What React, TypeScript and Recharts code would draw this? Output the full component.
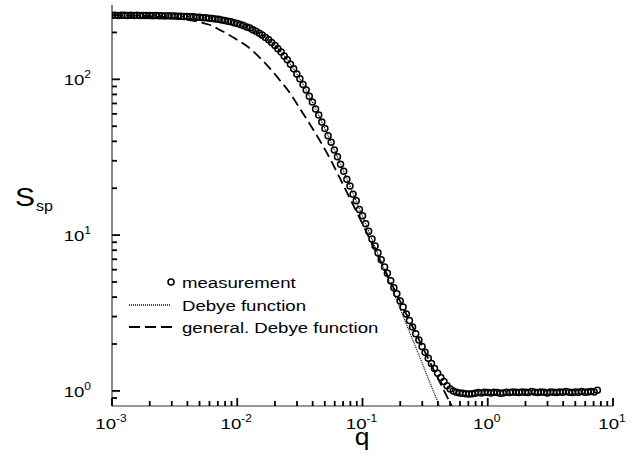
import React from 'react';
import { ComposedChart, Line, Scatter, XAxis, YAxis, Legend } from 'recharts';

// measured S_sp(q), low-q plateau
const measQLow = [0.001, 0.00106, 0.00112, 0.00119, 0.00126, 0.00133, 0.00141, 0.0015, 0.00158, 0.00168, 0.00178, 0.00188, 0.002, 0.00211, 0.00224, 0.00237, 0.00251, 0.00266, 0.00282, 0.00299, 0.00316, 0.00335, 0.00355, 0.00376, 0.00398, 0.00422, 0.00447, 0.00473, 0.00501, 0.00531, 0.00562, 0.00596, 0.00631, 0.00668, 0.00708, 0.0075, 0.00794, 0.00841, 0.00891, 0.00944];
const measSLow = [257.5, 258.2, 257.1, 258.0, 257.6, 256.9, 257.8, 257.0, 257.4, 256.6, 257.3, 256.5, 256.9, 256.2, 256.7, 255.8, 256.1, 255.4, 255.8, 254.9, 255.0, 254.1, 254.3, 253.2, 253.1, 252.0, 251.8, 250.6, 250.3, 248.7, 248.2, 246.5, 245.6, 243.7, 242.6, 240.2, 238.7, 236.0, 234.0, 230.8];

// measured, roll-off
const measQMid = [0.01, 0.0106, 0.0112, 0.0119, 0.0126, 0.0133, 0.0141, 0.015, 0.0158, 0.0168, 0.0178, 0.0188, 0.02, 0.0211, 0.0224, 0.0237, 0.0251, 0.0266, 0.0282, 0.0299, 0.0316, 0.0335, 0.0355, 0.0376, 0.0398, 0.0422, 0.0447, 0.0473, 0.0501, 0.0531, 0.0562, 0.0596, 0.0631, 0.0668, 0.0708, 0.075, 0.0794, 0.0841, 0.0891, 0.0944, 0.1, 0.106, 0.112, 0.119, 0.126, 0.133, 0.141, 0.15, 0.158, 0.168, 0.178, 0.188, 0.2, 0.211, 0.224, 0.237, 0.251, 0.266, 0.282, 0.299, 0.316, 0.335, 0.355, 0.376, 0.398, 0.422, 0.447, 0.473, 0.501, 0.531];
const measSMid = [228.3, 224.6, 221.7, 217.0, 213.3, 208.4, 203.8, 197.5, 192.7, 185.6, 179.5, 172.3, 165.1, 157.4, 149.9, 141.4, 133.8, 124.9, 117.1, 108.2, 101.0, 92.6, 85.4, 77.9, 71.6, 64.6, 59.1, 53.2, 48.4, 43.5, 39.4, 35.2, 31.9, 28.5, 25.7, 22.8, 20.7, 18.3, 16.6, 14.6, 13.3, 11.85, 10.6, 9.45, 8.5, 7.7, 6.95, 6.25, 5.7, 5.1, 4.6, 4.2, 3.78, 3.45, 3.12, 2.83, 2.57, 2.33, 2.12, 1.93, 1.77, 1.62, 1.5, 1.39, 1.3, 1.22, 1.15, 1.08, 1.03, 1.0];

// measured, flat background at high q
const measQHigh = [0.562, 0.596, 0.631, 0.668, 0.708, 0.75, 0.794, 0.841, 0.891, 0.944, 1, 1.06, 1.12, 1.19, 1.26, 1.33, 1.41, 1.5, 1.58, 1.68, 1.78, 1.88, 2, 2.11, 2.24, 2.37, 2.51, 2.66, 2.82, 2.99, 3.16, 3.35, 3.55, 3.76, 3.98, 4.22, 4.47, 4.73, 5.01, 5.31, 5.62, 5.96, 6.31, 6.68, 7.08, 7.5];
const measSHigh = [0.98, 0.97, 0.965, 0.96, 0.955, 0.96, 0.965, 0.975, 0.97, 0.98, 0.975, 0.97, 0.98, 0.975, 0.965, 0.97, 0.98, 0.975, 0.985, 0.98, 0.975, 0.985, 0.98, 0.975, 0.99, 0.98, 0.975, 0.985, 0.98, 0.97, 0.985, 0.98, 0.975, 0.985, 0.98, 0.99, 0.98, 0.975, 0.985, 0.98, 0.99, 0.98, 0.985, 0.99, 0.985, 1.01];

// Debye function (dotted)
const debyeQ = [0.001, 0.002, 0.003, 0.004, 0.005, 0.00631, 0.00794, 0.01, 0.0126, 0.0141, 0.0158, 0.0178, 0.02, 0.0224, 0.0251, 0.0282, 0.0316, 0.0355, 0.0398, 0.0447, 0.0501, 0.0562, 0.0631, 0.0708, 0.0794, 0.0891, 0.1, 0.112, 0.126, 0.141, 0.158, 0.178, 0.2, 0.224, 0.251, 0.282, 0.316, 0.355, 0.398, 0.422];
const debyeS = [257.7, 256.7, 255.1, 252.9, 250.0, 245.4, 238.5, 228.1, 213.0, 203.5, 192.4, 179.2, 164.8, 149.6, 133.5, 116.8, 100.8, 85.2, 71.4, 58.9, 48.3, 39.3, 31.8, 25.6, 20.6, 16.5, 13.2, 10.6, 8.39, 6.72, 5.37, 4.24, 3.36, 2.68, 2.14, 1.7, 1.35, 1.07, 0.853, 0.759];

// generalized Debye function (dashed)
const genQ = [0.001, 0.0015, 0.002, 0.003, 0.004, 0.005, 0.006, 0.0073, 0.0087, 0.01, 0.012, 0.0151, 0.018, 0.0218, 0.026, 0.0316, 0.038, 0.0456, 0.055, 0.066, 0.0817, 0.1, 0.13, 0.17, 0.2, 0.25, 0.3, 0.35, 0.43, 0.52];
const genS = [258, 256.5, 254, 248, 241, 233, 224, 207, 192, 179, 163, 138, 119, 99, 83, 65, 51.5, 40.5, 31, 23.2, 16.4, 11.8, 7.6, 4.9, 3.75, 2.6, 1.93, 1.5, 1.07, 0.79];

const xMajor = [0.001, 0.01, 0.1, 1, 10];
const xMinor = [0.002, 0.003, 0.004, 0.005, 0.006, 0.007, 0.008, 0.009, 0.02, 0.03, 0.04, 0.05, 0.06, 0.07, 0.08, 0.09, 0.2, 0.3, 0.4, 0.5, 0.6, 0.7, 0.8, 0.9, 2, 3, 4, 5, 6, 7, 8, 9];
const yMajor = [1, 10, 100];
const yMinor = [0.9, 2, 3, 4, 5, 6, 7, 8, 9, 20, 30, 40, 50, 60, 70, 80, 90, 200];

const zip = (qs: number[], ss: number[]) => qs.map((q, i) => ({ q, s: ss[i] }));
const measData = [...zip(measQLow, measSLow), ...zip(measQMid, measSMid), ...zip(measQHigh, measSHigh)];
const debyeData = zip(debyeQ, debyeS);
const genData = zip(genQ, genS);

const xTicks = [...xMajor, ...xMinor].sort((a, b) => a - b);
const yTicks = [...yMajor, ...yMinor].sort((a, b) => a - b);

const FONT = '"Liberation Sans", Arial, Helvetica, sans-serif';
const TICK = '#000';
const TICK_W = 1.8;
const X_DOMAIN: [number, number] = [0.001, 10];
const Y_DOMAIN: [number, number] = [0.8, 300];
const exp10 = (v: number) => String(Math.round(Math.log10(v)));
const isMajor = (list: number[], v: number) => list.some((m) => Math.abs(m - v) < m * 1e-6);

// plot box is fixed by the margins
const PLOT = { left: 112, right: 613, top: 5, bottom: 406 };

const BottomTick = (props: any) => {
  const major = isMajor(xMajor, props.payload.value);
  return (
    <g>
      <line x1={props.x} x2={props.x} y1={PLOT.bottom} y2={PLOT.bottom - (major ? 8 : 5)} stroke={TICK} strokeWidth={TICK_W} />
      {major && (
        <text transform={`translate(${props.x - 1},429) scale(1.2,1)`} textAnchor="middle" fontFamily={FONT} fontSize={15.5} fill="#000">
          10<tspan fontSize={10} dy={-7}>{exp10(props.payload.value)}</tspan>
        </text>
      )}
    </g>
  );
};

const TopTick = (props: any) => {
  const major = isMajor(xMajor, props.payload.value);
  return <line x1={props.x} x2={props.x} y1={PLOT.top} y2={PLOT.top + (major ? 8 : 5)} stroke={TICK} strokeWidth={TICK_W} />;
};

const LeftTick = (props: any) => {
  const major = isMajor(yMajor, props.payload.value);
  return (
    <g>
      <line x1={PLOT.left} x2={PLOT.left + (major ? 8 : 5)} y1={props.y} y2={props.y} stroke={TICK} strokeWidth={TICK_W} />
      {major && (
        <text transform={`translate(91,${props.y + 6}) scale(1.2,1)`} textAnchor="end" fontFamily={FONT} fontSize={15.5} fill="#000">
          10<tspan fontSize={10} dy={-7}>{exp10(props.payload.value)}</tspan>
        </text>
      )}
    </g>
  );
};

const RightTick = (props: any) => {
  const major = isMajor(yMajor, props.payload.value);
  return <line x1={PLOT.right} x2={PLOT.right - (major ? 8 : 5)} y1={props.y} y2={props.y} stroke={TICK} strokeWidth={TICK_W} />;
};

const Ring = (props: any) => (
  <circle cx={props.cx} cy={props.cy} r={3} fill="none" stroke="#000" strokeWidth={1.5} />
);

const LegendBox = () => (
  <svg width={270} height={72} style={{ overflow: 'visible' }}>
    <circle cx={46} cy={14} r={3} fill="none" stroke="#000" strokeWidth={1.5} />
    <text transform="translate(57,20) scale(1.2,1)" fontFamily={FONT} fontSize={15.5} fill="#000">measurement</text>
    <line x1={4} x2={46} y1={37} y2={37} stroke="#000" strokeWidth={1.3} strokeDasharray="1 1" />
    <text transform="translate(57,43) scale(1.2,1)" fontFamily={FONT} fontSize={15.5} fill="#000">Debye function</text>
    <line x1={4} x2={47} y1={59} y2={59} stroke="#000" strokeWidth={2} strokeDasharray="11 5" />
    <text transform="translate(57,65) scale(1.2,1)" fontFamily={FONT} fontSize={15.5} fill="#000">general. Debye function</text>
  </svg>
);

const frame = { stroke: '#333', strokeWidth: 1.2 };

export default function App() {
  return (
    <div style={{ position: 'absolute', left: 0, top: 0, width: 635, height: 462, background: '#fff' }}>
      <ComposedChart width={635} height={462} margin={{ top: 5, right: 22, bottom: 26, left: 52 }}>
        <XAxis dataKey="q" type="number" scale="log" domain={X_DOMAIN} allowDataOverflow ticks={xTicks} interval={0}
          tick={<BottomTick />} tickLine={false} tickSize={0} tickMargin={0} height={30} axisLine={frame} />
        <XAxis xAxisId="top" orientation="top" type="number" scale="log" domain={X_DOMAIN} allowDataOverflow ticks={xTicks} interval={0}
          tick={<TopTick />} tickLine={false} tickSize={0} tickMargin={0} height={0} axisLine={frame} />
        <YAxis dataKey="s" type="number" scale="log" domain={Y_DOMAIN} allowDataOverflow ticks={yTicks} interval={0}
          tick={<LeftTick />} tickLine={false} tickSize={0} tickMargin={0} width={60} axisLine={frame} />
        <YAxis yAxisId="right" orientation="right" type="number" scale="log" domain={Y_DOMAIN} allowDataOverflow ticks={yTicks} interval={0}
          tick={<RightTick />} tickLine={false} tickSize={0} tickMargin={0} width={0} axisLine={frame} />

        <Line data={genData} dataKey="s" type="monotone" dot={false} stroke="#000" strokeWidth={1.8} strokeDasharray="10 5" isAnimationActive={false} />
        <Line data={debyeData} dataKey="s" type="monotone" dot={false} stroke="#000" strokeWidth={1.2} strokeDasharray="1 1" isAnimationActive={false} />
        <Scatter data={measData} dataKey="s" shape={<Ring />} isAnimationActive={false} />
        <Legend layout="horizontal" verticalAlign="middle" align="center" content={() => <LegendBox />}
          wrapperStyle={{ left: 125, top: 268, width: 270, height: 72 }} />
      </ComposedChart>
      <svg width={635} height={462} style={{ position: 'absolute', left: 0, top: 0, pointerEvents: 'none' }}>
        <text transform="translate(15,206) scale(1.15,1)" fontFamily={FONT} fontSize={26} fill="#000">S</text>
        <text transform="translate(36,211) scale(1.15,1)" fontFamily={FONT} fontSize={14} fill="#000">sp</text>
        <text transform="translate(362,445) scale(1.1,1)" textAnchor="middle" fontFamily={FONT} fontSize={24} fill="#000">q</text>
      </svg>
    </div>
  );
}
